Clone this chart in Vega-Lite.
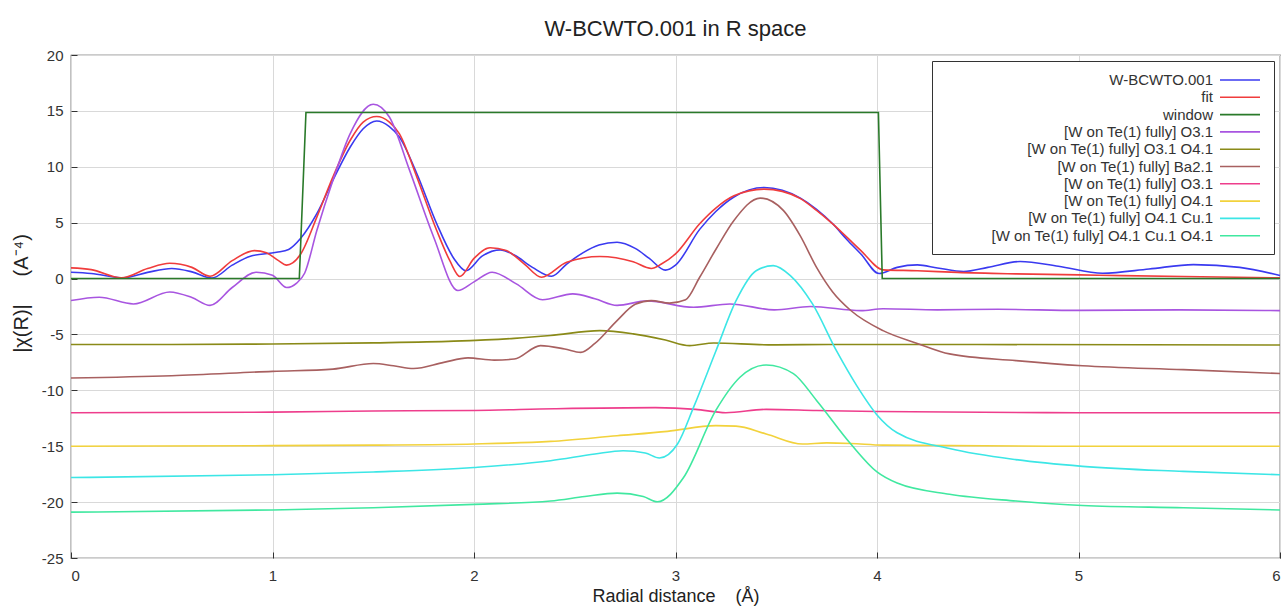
{
  "$schema": "https://vega.github.io/schema/vega-lite/v6.json",
  "autosize": "none",
  "width": 1209,
  "height": 503,
  "padding": {"left": 71, "top": 55, "right": 7, "bottom": 50},
  "background": "white",
  "title": {"text": "W-BCWTO.001 in R space", "fontSize": 22, "fontWeight": "normal", "font": "Liberation Sans", "color": "#222", "anchor": "middle", "offset": 7},
  "config": {
    "view": {"stroke": "#333", "strokeWidth": 1.2},
    "axis": {"labelFont": "Liberation Sans", "titleFont": "Liberation Sans", "labelFontSize": 15, "labelColor": "#333", "titleColor": "#222", "titleFontWeight": "normal", "titleFontSize": 18, "gridColor": "#d9d9d9", "gridWidth": 1, "domainColor": "#333", "tickColor": "#333"},
    "legend": {"labelFont": "Liberation Sans", "labelFontSize": 15, "labelColor": "#333"}
  },
  "data": {"values": [
    {"s":"W-BCWTO.001","r":0,"v":0.56},{"s":"W-BCWTO.001","r":0.1,"v":0.45},{"s":"W-BCWTO.001","r":0.26,"v":0.06},{"s":"W-BCWTO.001","r":0.38,"v":0.55},{"s":"W-BCWTO.001","r":0.5,"v":0.9},{"s":"W-BCWTO.001","r":0.6,"v":0.6},{"s":"W-BCWTO.001","r":0.7,"v":0.05},{"s":"W-BCWTO.001","r":0.8,"v":1.2},{"s":"W-BCWTO.001","r":0.89,"v":2.0},{"s":"W-BCWTO.001","r":1.02,"v":2.35},{"s":"W-BCWTO.001","r":1.08,"v":2.6},{"s":"W-BCWTO.001","r":1.14,"v":3.6},{"s":"W-BCWTO.001","r":1.22,"v":5.8},{"s":"W-BCWTO.001","r":1.3,"v":8.8},{"s":"W-BCWTO.001","r":1.385,"v":11.75},{"s":"W-BCWTO.001","r":1.45,"v":13.4},{"s":"W-BCWTO.001","r":1.517,"v":14.1},{"s":"W-BCWTO.001","r":1.58,"v":13.6},{"s":"W-BCWTO.001","r":1.63,"v":12.65},{"s":"W-BCWTO.001","r":1.716,"v":9.4},{"s":"W-BCWTO.001","r":1.815,"v":4.9},{"s":"W-BCWTO.001","r":1.9,"v":1.8},{"s":"W-BCWTO.001","r":1.96,"v":0.7},{"s":"W-BCWTO.001","r":2.04,"v":2.0},{"s":"W-BCWTO.001","r":2.13,"v":2.57},{"s":"W-BCWTO.001","r":2.2,"v":2.1},{"s":"W-BCWTO.001","r":2.29,"v":1.0},{"s":"W-BCWTO.001","r":2.385,"v":0.2},{"s":"W-BCWTO.001","r":2.46,"v":1.3},{"s":"W-BCWTO.001","r":2.54,"v":2.3},{"s":"W-BCWTO.001","r":2.62,"v":3.0},{"s":"W-BCWTO.001","r":2.71,"v":3.25},{"s":"W-BCWTO.001","r":2.8,"v":2.7},{"s":"W-BCWTO.001","r":2.87,"v":1.8},{"s":"W-BCWTO.001","r":2.95,"v":0.75},{"s":"W-BCWTO.001","r":3.0,"v":1.2},{"s":"W-BCWTO.001","r":3.12,"v":4.4},{"s":"W-BCWTO.001","r":3.2,"v":6.0},{"s":"W-BCWTO.001","r":3.29,"v":7.3},{"s":"W-BCWTO.001","r":3.44,"v":8.15},{"s":"W-BCWTO.001","r":3.53,"v":7.9},{"s":"W-BCWTO.001","r":3.62,"v":7.2},{"s":"W-BCWTO.001","r":3.7,"v":6.2},{"s":"W-BCWTO.001","r":3.78,"v":4.9},{"s":"W-BCWTO.001","r":3.85,"v":3.5},{"s":"W-BCWTO.001","r":3.92,"v":2.2},{"s":"W-BCWTO.001","r":4.01,"v":0.45},{"s":"W-BCWTO.001","r":4.1,"v":1.0},{"s":"W-BCWTO.001","r":4.2,"v":1.22},{"s":"W-BCWTO.001","r":4.3,"v":0.95},{"s":"W-BCWTO.001","r":4.43,"v":0.63},{"s":"W-BCWTO.001","r":4.55,"v":1.0},{"s":"W-BCWTO.001","r":4.71,"v":1.52},{"s":"W-BCWTO.001","r":4.9,"v":1.1},{"s":"W-BCWTO.001","r":5.12,"v":0.48},{"s":"W-BCWTO.001","r":5.35,"v":0.85},{"s":"W-BCWTO.001","r":5.57,"v":1.25},{"s":"W-BCWTO.001","r":5.8,"v":1.0},{"s":"W-BCWTO.001","r":6.0,"v":0.27},

    {"s":"fit","r":0,"v":0.96},{"s":"fit","r":0.1,"v":0.8},{"s":"fit","r":0.25,"v":0.06},{"s":"fit","r":0.38,"v":0.9},{"s":"fit","r":0.49,"v":1.37},{"s":"fit","r":0.6,"v":1.0},{"s":"fit","r":0.69,"v":0.2},{"s":"fit","r":0.8,"v":1.6},{"s":"fit","r":0.91,"v":2.5},{"s":"fit","r":0.97,"v":2.3},{"s":"fit","r":1.03,"v":1.6},{"s":"fit","r":1.07,"v":1.2},{"s":"fit","r":1.1,"v":1.4},{"s":"fit","r":1.14,"v":2.2},{"s":"fit","r":1.22,"v":5.5},{"s":"fit","r":1.3,"v":9.1},{"s":"fit","r":1.385,"v":12.35},{"s":"fit","r":1.45,"v":14.0},{"s":"fit","r":1.517,"v":14.5},{"s":"fit","r":1.58,"v":14.0},{"s":"fit","r":1.63,"v":12.95},{"s":"fit","r":1.716,"v":9.1},{"s":"fit","r":1.815,"v":4.3},{"s":"fit","r":1.88,"v":1.6},{"s":"fit","r":1.93,"v":0.18},{"s":"fit","r":2.0,"v":1.8},{"s":"fit","r":2.08,"v":2.75},{"s":"fit","r":2.16,"v":2.5},{"s":"fit","r":2.25,"v":1.3},{"s":"fit","r":2.335,"v":0.12},{"s":"fit","r":2.46,"v":1.46},{"s":"fit","r":2.625,"v":1.97},{"s":"fit","r":2.79,"v":1.5},{"s":"fit","r":2.88,"v":0.9},{"s":"fit","r":2.93,"v":1.3},{"s":"fit","r":3.0,"v":2.2},{"s":"fit","r":3.12,"v":4.9},{"s":"fit","r":3.2,"v":6.3},{"s":"fit","r":3.29,"v":7.4},{"s":"fit","r":3.44,"v":8.0},{"s":"fit","r":3.53,"v":7.8},{"s":"fit","r":3.62,"v":7.15},{"s":"fit","r":3.7,"v":6.1},{"s":"fit","r":3.78,"v":4.9},{"s":"fit","r":3.92,"v":2.5},{"s":"fit","r":4.03,"v":0.78},{"s":"fit","r":4.2,"v":0.7},{"s":"fit","r":4.4,"v":0.55},{"s":"fit","r":4.69,"v":0.42},{"s":"fit","r":5.1,"v":0.3},{"s":"fit","r":5.52,"v":0.18},{"s":"fit","r":6.0,"v":0.06},

    {"s":"window","r":0,"v":0},{"s":"window","r":1.133,"v":0},{"s":"window","r":1.166,"v":14.85},{"s":"window","r":4.007,"v":14.85},{"s":"window","r":4.026,"v":0},{"s":"window","r":6.0,"v":0},

    {"s":"[W on Te(1) fully] O3.1","r":0,"v":-1.97},{"s":"[W on Te(1) fully] O3.1","r":0.14,"v":-1.67},{"s":"[W on Te(1) fully] O3.1","r":0.31,"v":-2.27},{"s":"[W on Te(1) fully] O3.1","r":0.49,"v":-1.2},{"s":"[W on Te(1) fully] O3.1","r":0.6,"v":-1.7},{"s":"[W on Te(1) fully] O3.1","r":0.69,"v":-2.4},{"s":"[W on Te(1) fully] O3.1","r":0.8,"v":-0.8},{"s":"[W on Te(1) fully] O3.1","r":0.92,"v":0.57},{"s":"[W on Te(1) fully] O3.1","r":1.0,"v":0.3},{"s":"[W on Te(1) fully] O3.1","r":1.07,"v":-0.8},{"s":"[W on Te(1) fully] O3.1","r":1.12,"v":-0.4},{"s":"[W on Te(1) fully] O3.1","r":1.16,"v":0.5},{"s":"[W on Te(1) fully] O3.1","r":1.22,"v":4.3},{"s":"[W on Te(1) fully] O3.1","r":1.3,"v":8.8},{"s":"[W on Te(1) fully] O3.1","r":1.385,"v":12.95},{"s":"[W on Te(1) fully] O3.1","r":1.5,"v":15.6},{"s":"[W on Te(1) fully] O3.1","r":1.58,"v":14.45},{"s":"[W on Te(1) fully] O3.1","r":1.68,"v":9.7},{"s":"[W on Te(1) fully] O3.1","r":1.8,"v":3.7},{"s":"[W on Te(1) fully] O3.1","r":1.92,"v":-1.07},{"s":"[W on Te(1) fully] O3.1","r":2.0,"v":-0.3},{"s":"[W on Te(1) fully] O3.1","r":2.09,"v":0.57},{"s":"[W on Te(1) fully] O3.1","r":2.21,"v":-0.48},{"s":"[W on Te(1) fully] O3.1","r":2.34,"v":-1.9},{"s":"[W on Te(1) fully] O3.1","r":2.49,"v":-1.37},{"s":"[W on Te(1) fully] O3.1","r":2.6,"v":-1.8},{"s":"[W on Te(1) fully] O3.1","r":2.71,"v":-2.4},{"s":"[W on Te(1) fully] O3.1","r":2.86,"v":-2.0},{"s":"[W on Te(1) fully] O3.1","r":3.09,"v":-2.57},{"s":"[W on Te(1) fully] O3.1","r":3.27,"v":-2.27},{"s":"[W on Te(1) fully] O3.1","r":3.49,"v":-2.8},{"s":"[W on Te(1) fully] O3.1","r":3.67,"v":-2.5},{"s":"[W on Te(1) fully] O3.1","r":3.92,"v":-2.87},{"s":"[W on Te(1) fully] O3.1","r":4.03,"v":-2.7},{"s":"[W on Te(1) fully] O3.1","r":4.3,"v":-2.8},{"s":"[W on Te(1) fully] O3.1","r":4.6,"v":-2.75},{"s":"[W on Te(1) fully] O3.1","r":5.0,"v":-2.85},{"s":"[W on Te(1) fully] O3.1","r":5.5,"v":-2.8},{"s":"[W on Te(1) fully] O3.1","r":6.0,"v":-2.87},

    {"s":"[W on Te(1) fully] O3.1 O4.1","r":0,"v":-5.9},{"s":"[W on Te(1) fully] O3.1 O4.1","r":0.5,"v":-5.9},{"s":"[W on Te(1) fully] O3.1 O4.1","r":1.0,"v":-5.85},{"s":"[W on Te(1) fully] O3.1 O4.1","r":1.5,"v":-5.75},{"s":"[W on Te(1) fully] O3.1 O4.1","r":1.9,"v":-5.6},{"s":"[W on Te(1) fully] O3.1 O4.1","r":2.2,"v":-5.35},{"s":"[W on Te(1) fully] O3.1 O4.1","r":2.38,"v":-5.1},{"s":"[W on Te(1) fully] O3.1 O4.1","r":2.625,"v":-4.66},{"s":"[W on Te(1) fully] O3.1 O4.1","r":2.79,"v":-4.95},{"s":"[W on Te(1) fully] O3.1 O4.1","r":2.95,"v":-5.5},{"s":"[W on Te(1) fully] O3.1 O4.1","r":3.07,"v":-6.0},{"s":"[W on Te(1) fully] O3.1 O4.1","r":3.19,"v":-5.76},{"s":"[W on Te(1) fully] O3.1 O4.1","r":3.46,"v":-5.93},{"s":"[W on Te(1) fully] O3.1 O4.1","r":3.8,"v":-5.9},{"s":"[W on Te(1) fully] O3.1 O4.1","r":4.5,"v":-5.9},{"s":"[W on Te(1) fully] O3.1 O4.1","r":6.0,"v":-5.95},

    {"s":"[W on Te(1) fully] Ba2.1","r":0,"v":-8.9},{"s":"[W on Te(1) fully] Ba2.1","r":0.5,"v":-8.7},{"s":"[W on Te(1) fully] Ba2.1","r":1.0,"v":-8.3},{"s":"[W on Te(1) fully] Ba2.1","r":1.3,"v":-8.1},{"s":"[W on Te(1) fully] Ba2.1","r":1.5,"v":-7.6},{"s":"[W on Te(1) fully] Ba2.1","r":1.6,"v":-7.8},{"s":"[W on Te(1) fully] Ba2.1","r":1.7,"v":-8.05},{"s":"[W on Te(1) fully] Ba2.1","r":1.85,"v":-7.5},{"s":"[W on Te(1) fully] Ba2.1","r":1.97,"v":-7.1},{"s":"[W on Te(1) fully] Ba2.1","r":2.1,"v":-7.3},{"s":"[W on Te(1) fully] Ba2.1","r":2.2,"v":-7.2},{"s":"[W on Te(1) fully] Ba2.1","r":2.33,"v":-6.0},{"s":"[W on Te(1) fully] Ba2.1","r":2.45,"v":-6.3},{"s":"[W on Te(1) fully] Ba2.1","r":2.53,"v":-6.6},{"s":"[W on Te(1) fully] Ba2.1","r":2.6,"v":-5.8},{"s":"[W on Te(1) fully] Ba2.1","r":2.71,"v":-3.76},{"s":"[W on Te(1) fully] Ba2.1","r":2.8,"v":-2.3},{"s":"[W on Te(1) fully] Ba2.1","r":2.88,"v":-1.97},{"s":"[W on Te(1) fully] Ba2.1","r":2.97,"v":-2.2},{"s":"[W on Te(1) fully] Ba2.1","r":3.05,"v":-1.9},{"s":"[W on Te(1) fully] Ba2.1","r":3.12,"v":0.12},{"s":"[W on Te(1) fully] Ba2.1","r":3.2,"v":2.6},{"s":"[W on Te(1) fully] Ba2.1","r":3.29,"v":5.2},{"s":"[W on Te(1) fully] Ba2.1","r":3.42,"v":7.2},{"s":"[W on Te(1) fully] Ba2.1","r":3.535,"v":6.1},{"s":"[W on Te(1) fully] Ba2.1","r":3.62,"v":3.8},{"s":"[W on Te(1) fully] Ba2.1","r":3.7,"v":1.0},{"s":"[W on Te(1) fully] Ba2.1","r":3.78,"v":-1.2},{"s":"[W on Te(1) fully] Ba2.1","r":3.87,"v":-2.86},{"s":"[W on Te(1) fully] Ba2.1","r":4.03,"v":-4.66},{"s":"[W on Te(1) fully] Ba2.1","r":4.2,"v":-5.8},{"s":"[W on Te(1) fully] Ba2.1","r":4.36,"v":-6.74},{"s":"[W on Te(1) fully] Ba2.1","r":4.69,"v":-7.34},{"s":"[W on Te(1) fully] Ba2.1","r":5.02,"v":-7.8},{"s":"[W on Te(1) fully] Ba2.1","r":5.52,"v":-8.15},{"s":"[W on Te(1) fully] Ba2.1","r":6.0,"v":-8.5},

    {"s":"[W on Te(1) fully] O3.1 #2","r":0,"v":-12.0},{"s":"[W on Te(1) fully] O3.1 #2","r":1.0,"v":-11.95},{"s":"[W on Te(1) fully] O3.1 #2","r":1.5,"v":-11.85},{"s":"[W on Te(1) fully] O3.1 #2","r":2.0,"v":-11.8},{"s":"[W on Te(1) fully] O3.1 #2","r":2.4,"v":-11.65},{"s":"[W on Te(1) fully] O3.1 #2","r":2.9,"v":-11.55},{"s":"[W on Te(1) fully] O3.1 #2","r":3.1,"v":-11.7},{"s":"[W on Te(1) fully] O3.1 #2","r":3.25,"v":-12.0},{"s":"[W on Te(1) fully] O3.1 #2","r":3.45,"v":-11.7},{"s":"[W on Te(1) fully] O3.1 #2","r":3.7,"v":-11.8},{"s":"[W on Te(1) fully] O3.1 #2","r":4.0,"v":-11.9},{"s":"[W on Te(1) fully] O3.1 #2","r":5.0,"v":-12.0},{"s":"[W on Te(1) fully] O3.1 #2","r":6.0,"v":-12.0},

    {"s":"[W on Te(1) fully] O4.1","r":0,"v":-15.0},{"s":"[W on Te(1) fully] O4.1","r":1.0,"v":-14.95},{"s":"[W on Te(1) fully] O4.1","r":1.5,"v":-14.9},{"s":"[W on Te(1) fully] O4.1","r":2.0,"v":-14.8},{"s":"[W on Te(1) fully] O4.1","r":2.38,"v":-14.57},{"s":"[W on Te(1) fully] O4.1","r":2.71,"v":-14.06},{"s":"[W on Te(1) fully] O4.1","r":2.96,"v":-13.67},{"s":"[W on Te(1) fully] O4.1","r":3.2,"v":-13.16},{"s":"[W on Te(1) fully] O4.1","r":3.3,"v":-13.2},{"s":"[W on Te(1) fully] O4.1","r":3.45,"v":-13.9},{"s":"[W on Te(1) fully] O4.1","r":3.63,"v":-14.8},{"s":"[W on Te(1) fully] O4.1","r":3.75,"v":-14.7},{"s":"[W on Te(1) fully] O4.1","r":3.87,"v":-14.75},{"s":"[W on Te(1) fully] O4.1","r":4.03,"v":-14.9},{"s":"[W on Te(1) fully] O4.1","r":5.0,"v":-15.0},{"s":"[W on Te(1) fully] O4.1","r":6.0,"v":-15.0},

    {"s":"[W on Te(1) fully] O4.1 Cu.1","r":0,"v":-17.8},{"s":"[W on Te(1) fully] O4.1 Cu.1","r":1.0,"v":-17.55},{"s":"[W on Te(1) fully] O4.1 Cu.1","r":1.5,"v":-17.3},{"s":"[W on Te(1) fully] O4.1 Cu.1","r":2.0,"v":-16.9},{"s":"[W on Te(1) fully] O4.1 Cu.1","r":2.38,"v":-16.3},{"s":"[W on Te(1) fully] O4.1 Cu.1","r":2.6,"v":-15.7},{"s":"[W on Te(1) fully] O4.1 Cu.1","r":2.74,"v":-15.4},{"s":"[W on Te(1) fully] O4.1 Cu.1","r":2.85,"v":-15.6},{"s":"[W on Te(1) fully] O4.1 Cu.1","r":2.92,"v":-16.05},{"s":"[W on Te(1) fully] O4.1 Cu.1","r":3.01,"v":-14.8},{"s":"[W on Te(1) fully] O4.1 Cu.1","r":3.09,"v":-11.5},{"s":"[W on Te(1) fully] O4.1 Cu.1","r":3.2,"v":-6.5},{"s":"[W on Te(1) fully] O4.1 Cu.1","r":3.3,"v":-2.0},{"s":"[W on Te(1) fully] O4.1 Cu.1","r":3.4,"v":0.7},{"s":"[W on Te(1) fully] O4.1 Cu.1","r":3.485,"v":1.16},{"s":"[W on Te(1) fully] O4.1 Cu.1","r":3.57,"v":0.27},{"s":"[W on Te(1) fully] O4.1 Cu.1","r":3.68,"v":-2.27},{"s":"[W on Te(1) fully] O4.1 Cu.1","r":3.8,"v":-6.5},{"s":"[W on Te(1) fully] O4.1 Cu.1","r":3.9,"v":-9.6},{"s":"[W on Te(1) fully] O4.1 Cu.1","r":4.0,"v":-12.2},{"s":"[W on Te(1) fully] O4.1 Cu.1","r":4.1,"v":-13.8},{"s":"[W on Te(1) fully] O4.1 Cu.1","r":4.36,"v":-15.2},{"s":"[W on Te(1) fully] O4.1 Cu.1","r":4.69,"v":-16.2},{"s":"[W on Te(1) fully] O4.1 Cu.1","r":5.02,"v":-16.8},{"s":"[W on Te(1) fully] O4.1 Cu.1","r":5.52,"v":-17.25},{"s":"[W on Te(1) fully] O4.1 Cu.1","r":6.0,"v":-17.55},

    {"s":"[W on Te(1) fully] O4.1 Cu.1 O4.1","r":0,"v":-20.9},{"s":"[W on Te(1) fully] O4.1 Cu.1 O4.1","r":1.0,"v":-20.7},{"s":"[W on Te(1) fully] O4.1 Cu.1 O4.1","r":1.5,"v":-20.5},{"s":"[W on Te(1) fully] O4.1 Cu.1 O4.1","r":2.0,"v":-20.2},{"s":"[W on Te(1) fully] O4.1 Cu.1 O4.1","r":2.38,"v":-19.9},{"s":"[W on Te(1) fully] O4.1 Cu.1 O4.1","r":2.55,"v":-19.5},{"s":"[W on Te(1) fully] O4.1 Cu.1 O4.1","r":2.71,"v":-19.2},{"s":"[W on Te(1) fully] O4.1 Cu.1 O4.1","r":2.84,"v":-19.5},{"s":"[W on Te(1) fully] O4.1 Cu.1 O4.1","r":2.91,"v":-19.97},{"s":"[W on Te(1) fully] O4.1 Cu.1 O4.1","r":3.04,"v":-17.8},{"s":"[W on Te(1) fully] O4.1 Cu.1 O4.1","r":3.2,"v":-11.8},{"s":"[W on Te(1) fully] O4.1 Cu.1 O4.1","r":3.32,"v":-8.83},{"s":"[W on Te(1) fully] O4.1 Cu.1 O4.1","r":3.45,"v":-7.73},{"s":"[W on Te(1) fully] O4.1 Cu.1 O4.1","r":3.585,"v":-8.5},{"s":"[W on Te(1) fully] O4.1 Cu.1 O4.1","r":3.7,"v":-10.9},{"s":"[W on Te(1) fully] O4.1 Cu.1 O4.1","r":3.87,"v":-14.8},{"s":"[W on Te(1) fully] O4.1 Cu.1 O4.1","r":4.0,"v":-17.3},{"s":"[W on Te(1) fully] O4.1 Cu.1 O4.1","r":4.1,"v":-18.3},{"s":"[W on Te(1) fully] O4.1 Cu.1 O4.1","r":4.36,"v":-19.3},{"s":"[W on Te(1) fully] O4.1 Cu.1 O4.1","r":4.69,"v":-19.9},{"s":"[W on Te(1) fully] O4.1 Cu.1 O4.1","r":5.02,"v":-20.3},{"s":"[W on Te(1) fully] O4.1 Cu.1 O4.1","r":5.52,"v":-20.5},{"s":"[W on Te(1) fully] O4.1 Cu.1 O4.1","r":6.0,"v":-20.7}
  ]},
  "encoding": {
    "x": {"field": "r", "type": "quantitative", "scale": {"domain": [0, 6], "nice": false, "zero": false},
      "axis": {"title": "Radial distance\u00a0\u00a0\u00a0\u00a0(Å)", "values": [0,1,2,3,4,5,6], "labelExpr": "'' + datum.value", "tickSize": -6, "labelPadding": 16, "titlePadding": 4, "grid": true, "domain": false}},
    "y": {"field": "v", "type": "quantitative", "scale": {"domain": [-25, 20], "nice": false, "zero": false},
      "axis": {"title": "|χ(R)|\u00a0\u00a0\u00a0\u00a0\u00a0(A⁻⁴)", "titleFontSize": 20, "titleY": 238, "values": [-25,-20,-15,-10,-5,0,5,10,15,20], "labelExpr": "'' + datum.value", "tickSize": -6, "labelPadding": 14, "titlePadding": 10, "grid": true, "domain": false}},
    "color": {"field": "s", "type": "nominal",
      "scale": {"domain": ["W-BCWTO.001","fit","window","[W on Te(1) fully] O3.1","[W on Te(1) fully] O3.1 O4.1","[W on Te(1) fully] Ba2.1","[W on Te(1) fully] O3.1 #2","[W on Te(1) fully] O4.1","[W on Te(1) fully] O4.1 Cu.1","[W on Te(1) fully] O4.1 Cu.1 O4.1"],
        "range": ["#3a3af0","#f03c3c","#2a7a2a","#a855e0","#8a8a18","#a86060","#ee3d8c","#f2d23c","#3ce6e6","#40e8a0"]},
      "legend": {"title": null, "orient": "top-right", "offset": 6, "fillColor": "white", "strokeColor": "#333", "padding": 10, "symbolType": "M-2.5,0H2.5", "symbolSize": 256, "symbolStrokeWidth": 1.6, "rowPadding": 0.3, "symbolOffset": 289, "labelAlign": "right", "labelOffset": -36, "labelExpr": "replace(datum.label, ' #2', '')", "labelLimit": 400}
    },
    "order": {"value": 0}
  },
  "layer": [
    {"transform": [{"filter": "datum.s != 'window'"}], "mark": {"type": "line", "interpolate": "monotone", "strokeWidth": 1.6}},
    {"transform": [{"filter": "datum.s == 'window'"}], "mark": {"type": "line", "interpolate": "linear", "strokeWidth": 1.6}}
  ]
}
